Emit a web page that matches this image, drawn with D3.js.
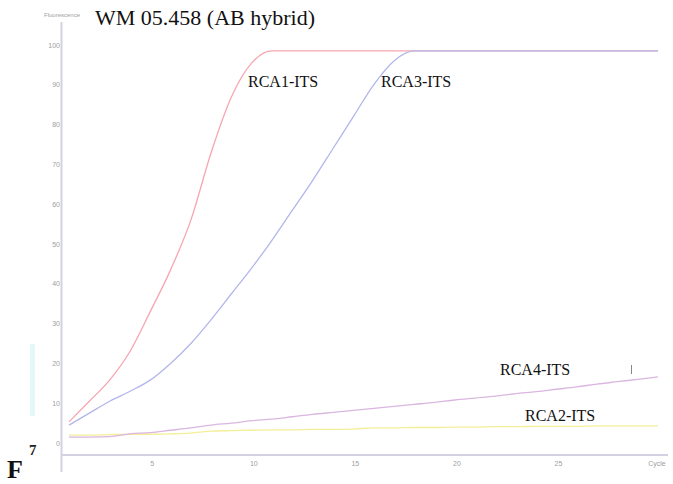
<!DOCTYPE html>
<html>
<head>
<meta charset="utf-8">
<script src="https://cdn.jsdelivr.net/npm/d3@7"></script>
<style>
  html, body { margin: 0; padding: 0; background: #fff; }
  svg { display: block; }
</style>
</head>
<body>
<svg id="chart" width="673" height="484"></svg>
<script>
// Real-time PCR amplification curves, fluorescence per cycle
const cycles = d3.range(1, 31);
const rca1 = [5.3, 10.5, 15.8, 23, 33, 43.5, 56, 73, 87, 95.5, 98.5, 98.5, 98.5, 98.5, 98.5,
              98.5, 98.5, 98.5, 98.5, 98.5, 98.5, 98.5, 98.5, 98.5, 98.5, 98.5, 98.5, 98.5, 98.5, 98.5];
const rca3 = [4.5, 7.5, 10.5, 13, 15.8, 20, 25, 31, 37.5, 44, 51, 58.5, 66, 74, 82,
              90, 96, 98.5, 98.5, 98.5, 98.5, 98.5, 98.5, 98.5, 98.5, 98.5, 98.5, 98.5, 98.5, 98.5];
const rca4 = [1.5, 1.5, 1.6, 2.3, 2.6, 3.2, 3.8, 4.5, 5.0, 5.6, 6.0, 6.6, 7.2, 7.7, 8.2,
              8.7, 9.2, 9.7, 10.2, 10.8, 11.3, 11.8, 12.4, 12.9, 13.5, 14.1, 14.8, 15.4, 16.0, 16.6];
const rca2 = [2.0, 2.0, 2.1, 2.2, 2.2, 2.3, 2.5, 3.0, 3.1, 3.2, 3.3, 3.3, 3.4, 3.4, 3.5,
              3.8, 3.8, 3.9, 3.9, 4.0, 4.0, 4.1, 4.1, 4.2, 4.2, 4.2, 4.3, 4.3, 4.3, 4.3];
const xTicks = [5, 10, 15, 20, 25];
const yTicks = [0, 10, 20, 30, 40, 50, 60, 70, 80, 90, 100];

const seriesList = [
  { name: "RCA2-ITS", values: rca2, color: "#f4ee98", lx: 525, ly: 421 },
  { name: "RCA4-ITS", values: rca4, color: "#dab6e0", lx: 500, ly: 375 },
  { name: "RCA1-ITS", values: rca1, color: "#f6a6b0", lx: 248, ly: 87 },
  { name: "RCA3-ITS", values: rca3, color: "#b2b6ea", lx: 381, ly: 87 }
];

const svg = d3.select("#chart");
const x = d3.scaleLinear().domain([1, 30]).range([69, 658]);
const y = d3.scaleLinear().domain([0, 100]).range([443, 45]);

const axisColor = "#d2d2e2";
const tickColor = "#a0a0a0";

// axes
svg.append("line").attr("x1", 61.5).attr("x2", 61.5).attr("y1", 22).attr("y2", 472)
  .attr("stroke", axisColor).attr("stroke-width", 2);
svg.append("line").attr("x1", 61).attr("x2", 668).attr("y1", 455).attr("y2", 455)
  .attr("stroke", axisColor).attr("stroke-width", 2);

// y tick labels
svg.append("g").selectAll("text").data(yTicks).join("text")
  .attr("x", 60).attr("y", d => y(d) + 2.5)
  .attr("text-anchor", "end")
  .attr("font-family", "Liberation Sans, Arial, sans-serif")
  .attr("font-size", 7).attr("fill", tickColor)
  .text(d => d);

// x tick labels
svg.append("g").selectAll("text").data(xTicks).join("text")
  .attr("x", d => x(d) + 2).attr("y", 466)
  .attr("text-anchor", "middle")
  .attr("font-family", "Liberation Sans, Arial, sans-serif")
  .attr("font-size", 7).attr("fill", tickColor)
  .text(d => d);
svg.append("text").attr("x", 657).attr("y", 466).attr("text-anchor", "middle")
  .attr("font-family", "Liberation Sans, Arial, sans-serif")
  .attr("font-size", 7).attr("fill", tickColor).text("Cycle");
svg.append("text").attr("x", 62).attr("y", 17).attr("text-anchor", "middle")
  .attr("font-family", "Liberation Sans, Arial, sans-serif")
  .attr("font-size", 6).attr("fill", tickColor).text("Fluorescence");

// curves
const line = d3.line().x((d, i) => x(cycles[i])).y(d => y(d)).curve(d3.curveMonotoneX);
svg.append("g").selectAll("path").data(seriesList).join("path")
  .attr("d", d => line(d.values))
  .attr("fill", "none")
  .attr("stroke", d => d.color)
  .attr("stroke-width", 1.3);

// curve labels
svg.append("g").selectAll("text").data(seriesList).join("text")
  .attr("x", d => d.lx).attr("y", d => d.ly)
  .attr("font-family", "Liberation Serif, Times New Roman, serif")
  .attr("font-size", 16).attr("fill", "#111")
  .text(d => d.name);
svg.append("line").attr("x1", 631.5).attr("x2", 631.5).attr("y1", 365).attr("y2", 374)
  .attr("stroke", "#888").attr("stroke-width", 1);

// title
svg.append("text").attr("x", 95).attr("y", 25)
  .attr("font-family", "Liberation Serif, Times New Roman, serif")
  .attr("font-size", 22).attr("fill", "#111")
  .text("WM 05.458 (AB hybrid)");

// panel letter
svg.append("rect").attr("x", 30).attr("y", 344).attr("width", 5).attr("height", 72).attr("fill", "#e4f8fa");
svg.append("text").attr("x", 29).attr("y", 455)
  .attr("font-family", "Liberation Serif, Times New Roman, serif")
  .attr("font-weight", "bold").attr("font-size", 15).attr("fill", "#222").text("7");
svg.append("text").attr("x", 7).attr("y", 478)
  .attr("font-family", "Liberation Serif, Times New Roman, serif")
  .attr("font-weight", "bold").attr("font-size", 26).attr("fill", "#111").text("F");
</script>
</body>
</html>
